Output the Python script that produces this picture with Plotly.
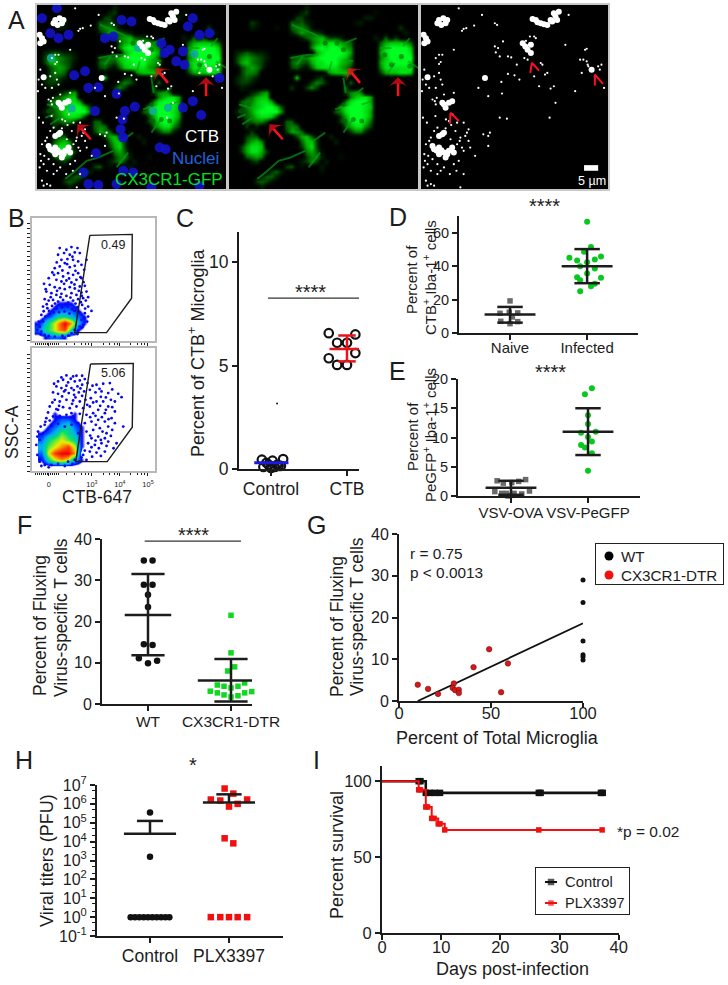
import plotly.graph_objects as go

W, H = 728, 985
FONT = "Liberation Sans"
INK = "#1c1c1c"

# ---------- Panel A (image field read on a 570 x 555 grid) ----------
GREEN_ROWS = [
    "...............2......................",
    "..............23.............1........",
    ".............331...........22.........",
    "....32......43421........12...........",
    "....21...1..45541.................3...",
    "............2465432................2..",
    "..............245674332......2.4.3....",
    "................467788654.....4677764.",
    "................589899865.....5899997.",
    ".2343221.........68999986.....6899998.",
    ".3565432....3455789999874.....5799899.",
    ".3675431....4543688999765.....6889998.",
    "..35653.....3421478888653.....5888889.",
    "..3554.............267775.....3677887.",
    ".23432.......7...23....3...............",
    ".2332...........3542....4..............",
    "..21........3..353.....4...............",
    "....2356...............3565............",
    "...34677................57886..........",
    "..4557886..............589996..........",
    "..356789973...........6899987.........",
    ".2346899995..........45899986.........",
    "..24578873............3699986.........",
    "...34553...44.........3589974.........",
    "...3.2.....455.........468853.........",
    "....3......3664.........3552..........",
    "...344.......3674...2.................",
    "...4675.......4773...2................",
    "..36887.......3683....................",
    "..368863.......5641...................",
    "...4565........3552...1...............",
    "....23........2353.2..................",
    "...........34.1...2...................",
    "........342.......1...................",
    "......2442............................",
    ".....3431.............................",
    "......2...............................",
]
ARM_X = [385, 350, None, 375, 345, None, 190, 250, 280, None, 185, 240, 270, None, 205, 225, None, 300, 310, None,
         320, 360, None, 345, 352, None, 430, 400, None, 345, 370, None, 405, 380, None,
         455, 490, None, 545, 525, None, 570, 540, None, 480, 500, None,
         85, 110, 150, 185, 230, None, 30, 70, None, 40, 70, None, 25, 50, None, 240, 265, 275, None, 255, 275, 290]
ARM_Y = [100, 115, None, 170, 165, None, 60, 85, 100, None, 160, 150, 150, None, 180, 150, None, 205, 170, None,
         315, 300, None, 220, 265, None, 290, 300, None, 385, 350, None, 250, 270, None,
         130, 130, None, 100, 125, None, 190, 170, None, 205, 175, None,
         525, 505, 470, 460, 440, None, 300, 310, None, 360, 340, None, 340, 330, None, 490, 460, 445, None, 410, 395, 385]
HOLE_X = [325, 345, 290, 520, 490, 545, 470, 375, 345, 400, 350, 60, 35, 205]
HOLE_Y = [115, 135, 115, 155, 180, 185, 150, 345, 300, 350, 350, 300, 320, 375]
NUCLEI_X = [15, 65, 40, 95, 255, 285, 205, 230, 470, 490, 455, 520, 385, 375, 440, 400, 445, 420, 550, 112, 145, 155, 185,
            240, 295, 265, 175, 258, 252, 260, 370, 388, 440, 470, 495, 178, 140, 155, 185, 260, 290, 240, 345, 490, 60]
NUCLEI_Y = [40, 100, 85, 90, 45, 50, 100, 95, 40, 90, 65, 85, 145, 115, 140, 135, 180, 170, 220, 212, 200, 250, 248,
            268, 307, 320, 320, 345, 375, 400, 430, 435, 310, 290, 332, 447, 505, 540, 543, 500, 505, 540, 550, 545, 10]
TEAL_X = [42, 350, 395, 475, 105, 305]
TEAL_Y = [160, 320, 310, 148, 312, 130]
SPECK_BIG_X = [55, 68, 75, 62, 80, 50, 15, 8, 20, 10, 340, 355, 375, 395, 410, 420, 405, 385, 400, 415, 350, 318, 310, 325, 335,
               335, 195, 520, 70, 85, 95, 75, 65, 40, 55, 70, 85, 75, 55, 95, 35, 100, 65, 55, 70, 20, 48, 62, 80, 365]
SPECK_BIG_Y = [45, 40, 55, 60, 45, 55, 100, 90, 110, 115, 42, 52, 58, 45, 35, 20, 25, 60, 50, 45, 45, 125, 115, 135, 120,
               145, 220, 195, 300, 295, 290, 310, 295, 435, 430, 445, 440, 460, 450, 430, 425, 445, 390, 395, 385, 218, 440, 438, 450, 55]
SPECK_X = [130, 125, 138, 225, 232, 345, 350, 320, 315, 325, 275, 265, 228, 240, 225, 235, 370, 365, 378, 385, 345,
           500, 505, 495, 505, 540, 550, 485, 510, 545, 490, 530, 175, 265, 285, 245, 247, 205, 410, 392, 262, 405, 395, 360,
           55, 45, 60, 55, 65, 10, 5, 15, 3, 25, 40, 55, 60, 65, 45, 70, 100, 42, 45, 35, 48,
           50, 85, 110, 130, 105, 120, 135, 145, 125, 130, 110, 90, 40, 25, 15, 10, 12, 20, 30, 50, 70, 100, 130, 165, 205, 190, 210,
           30, 20, 40, 15, 50, 120, 115, 30, 145, 75, 92, 118, 140, 22, 35, 8, 60, 88, 108, 150, 6, 18, 44, 76, 96,
           100, 162, 186, 250, 300, 292, 440, 470, 205, 240, 332, 450, 508, 558, 115]
SPECK_Y = [72, 78, 70, 55, 60, 95, 100, 108, 160, 165, 158, 155, 143, 155, 125, 130, 180, 175, 210, 205, 215,
           135, 132, 165, 170, 185, 180, 165, 185, 195, 205, 215, 250, 208, 212, 232, 267, 275, 295, 340, 343, 245, 252, 245,
           150, 160, 172, 178, 150, 195, 225, 240, 260, 250, 215, 205, 225, 240, 250, 270, 265, 290, 300, 285, 280,
           370, 350, 355, 355, 380, 400, 395, 410, 430, 440, 420, 405, 380, 410, 420, 450, 470, 480, 500, 480, 490, 480, 510, 455, 425, 390, 385,
           540, 545, 545, 530, 510, 550, 470, 400, 375, 372, 362, 410, 385, 455, 465, 490, 500, 510, 500, 430, 340, 355, 335, 345, 330,
           135, 62, 30, 110, 225, 180, 120, 260, 395, 340, 95, 30, 180, 250, 10]
ARROW_TIP_X = [358, 510, 122]
ARROW_TIP_Y = [190, 218, 360]
ARROW_TAIL_X = [395, 510, 162]
ARROW_TAIL_Y = [235, 275, 405]
CARET_X = [333, 338, 360, None, 530, 530, 555, None, 88, 90, 115]
CARET_Y = [205, 175, 198, None, 243, 210, 238, None, 358, 325, 350]

# ---------- Panel B (flow cytometry) ----------
B_TOP_X = [105, 125, 140, 158, 100, 118, 135, 150, 165, 110, 128, 145, 160, 120, 90, 105, 135, 150, 170, 88, 100, 115, 130, 145, 160, 178, 185,
           95, 110, 125, 140, 155, 170, 58, 75, 90, 105, 120, 135, 150, 165, 180, 65, 80, 95, 110, 125, 140, 155, 170, 185,
           60, 72, 85, 100, 115, 130, 145, 160, 175, 190, 55, 68, 82, 96, 112, 128, 142, 158, 172, 200, 190, 50, 62, 75, 180, 190, 170, 165, 175, 45, 50, 60, 150, 140, 160,
           72, 83, 113, 127, 143, 96, 152, 167, 176, 63, 78, 97, 118, 133, 149, 162, 171, 183, 66, 91, 107, 122, 137, 152, 168, 181, 57, 73, 87, 103, 119, 134, 149, 163, 178, 42, 55, 187, 172, 158, 37, 48, 72, 90, 113, 131]
B_TOP_Y = [115, 120, 112, 115, 135, 130, 135, 128, 130, 150, 148, 150, 155, 160, 175, 170, 172, 168, 165, 195, 190, 200, 190, 195, 190, 180, 150,
           210, 215, 212, 218, 210, 205, 222, 225, 232, 235, 238, 232, 236, 230, 228, 245, 250, 255, 252, 258, 250, 255, 248, 245,
           268, 272, 270, 275, 270, 278, 272, 268, 265, 262, 290, 295, 288, 296, 292, 290, 298, 292, 285, 303, 290, 315, 320, 312, 310, 320, 330, 350, 345, 350, 365, 375, 360, 370, 362,
           205, 188, 182, 163, 141, 158, 183, 202, 217, 238, 262, 243, 222, 206, 224, 243, 258, 272, 283, 281, 262, 283, 263, 281, 277, 296, 304, 303, 308, 307, 305, 311, 303, 307, 325, 335, 335, 335, 352, 372, 360, 373, 378, 380, 378, 377]
B_BOT_X = [125, 145, 155, 100, 115, 130, 150, 165, 180, 95, 110, 125, 140, 158, 172, 188, 85, 100, 118, 132, 148, 162, 178, 195, 215, 235, 255, 280, 290, 270, 250, 230, 212, 198, 182, 165, 145, 125, 105, 90,
           75, 95, 115, 135, 155, 175, 195, 215, 235, 250, 270, 220, 240, 205, 185, 165, 145, 125, 105, 85, 65, 60, 80, 100, 120, 140, 160, 180, 200, 220, 240, 260, 295, 205, 225, 250, 185, 40, 55,
           200, 220, 240, 258, 190, 210, 230, 250, 275, 195, 215, 240, 175, 185, 165, 60, 45, 80, 100, 130, 150, 45, 160, 100, 75, 140,
           110, 138, 172, 88, 122, 147, 167, 203, 224, 243, 262, 258, 228, 205, 172, 152, 112, 83, 103, 142, 187, 226, 243, 262, 212, 196, 231, 251, 270, 213, 233, 262, 245, 196, 212, 228, 245, 266, 200, 222, 202, 228, 180, 70, 62, 48, 38, 35, 38, 50, 72, 120, 143, 170]
B_BOT_Y = [497, 500, 498, 515, 510, 518, 515, 512, 508, 530, 535, 528, 535, 530, 525, 520, 548, 552, 545, 550, 555, 548, 545, 540, 525, 522, 520, 552, 562, 575, 550, 545, 548, 565, 570, 575, 572, 570, 575, 570,
           590, 598, 592, 595, 590, 595, 590, 575, 575, 590, 605, 600, 610, 610, 615, 612, 620, 615, 618, 620, 625, 645, 648, 642, 650, 645, 640, 640, 635, 630, 635, 625, 650, 660, 655, 650, 665, 665, 670,
           685, 680, 685, 678, 700, 705, 700, 695, 700, 725, 728, 725, 735, 750, 755, 765, 755, 765, 762, 755, 750, 690, 670, 600, 632, 610,
           503, 507, 498, 522, 541, 541, 536, 528, 537, 563, 539, 570, 561, 578, 558, 563, 560, 578, 588, 582, 585, 588, 600, 592, 618, 622, 622, 628, 640, 645, 665, 660, 670, 677, 692, 690, 708, 715, 712, 715, 740, 738, 722, 608, 636, 650, 680, 705, 735, 768, 772, 768, 762, 742]
B_TOP_DENSITY = [
    "..........",
    "..........",
    "...111....",
    "..12221...",
    ".1244321..",
    "13579731..",
    "2457841...",
    ".1221.....",
]
B_BOT_DENSITY = [
    "........",
    "..1..1..",
    "..1221..",
    ".123421.",
    "1235431.",
    "2456541.",
    "3567861.",
    "268997..",
    "1467631.",
    "........",
]
GATE_TOP_X = [195, 322, 320, 245, 150, 195]
GATE_TOP_Y = [77, 74, 265, 368, 368, 77]
GATE_BOT_X = [197, 325, 322, 247, 153, 197]
GATE_BOT_Y = [463, 461, 652, 755, 755, 463]
B_XMINOR = [33, 38, 44, 50, 56, 62, 68, 78, 84, 90, 96, 101, 125, 150, 170, 182, 192, 235, 255, 268, 278, 318, 338, 350, 360]
B_XLABELS = ["0", "10<sup>3</sup>", "10<sup>4</sup>", "10<sup>5</sup>"]
B_XLABEL_AT = [72, 201, 285, 369]
B_YTICKS_TOP = [42, 56, 70, 84, 98, 111, 125, 139, 153, 167, 181, 195, 210, 224, 238, 252, 266, 280, 294, 308, 321, 335, 349, 363, 377, 390]
B_YTICKS_BOT = [433, 447, 461, 475, 489, 503, 517, 531, 545, 559, 573, 587, 601, 615, 629, 643, 657, 671, 685, 699, 713, 727, 741, 755, 769, 783]

# ---------- Panel C ----------
C_CTRL_X = [0.88, 1.16, 1.02, 0.94, 1.08, 0.90, 1.00, 1.10, 0.97, 1.05, 1.13]
C_CTRL_Y = [0.45, 0.48, 0.40, 0.30, 0.20, 0.10, 0.05, 0.15, 0.20, 0.10, 0.15]
C_CTB_X = [1.76, 2.11, 2.00, 1.87, 2.11, 1.76, 1.87, 2.00]
C_CTB_Y = [6.56, 6.50, 6.10, 6.10, 5.60, 5.35, 5.03, 5.03]
C_OUTLIER_X = [1.08]
C_OUTLIER_Y = [3.17]

# ---------- Panel D ----------
D_NAIVE_X = [1.00, 0.87, 0.99, 1.10, 1.03, 0.88, 1.10, 1.00]
D_NAIVE_Y = [19.2, 11.8, 12.4, 12.0, 9.6, 7.0, 6.8, 5.6]
D_INF_X = [2.00, 2.05, 1.96, 1.77, 1.87, 2.00, 2.18, 2.10, 1.91, 2.10, 2.00, 1.87, 2.18, 1.91, 2.10, 2.05, 1.91]
D_INF_Y = [66.6, 51.4, 48.6, 45.0, 43.4, 42.4, 45.8, 44.0, 40.0, 38.6, 35.6, 33.4, 33.0, 31.6, 29.4, 28.0, 25.0]

# ---------- Panel E ----------
E_OVA_X = [0.82, 0.90, 1.01, 1.10, 1.19, 0.79, 0.88, 0.94, 0.96, 1.04, 1.14, 1.24, 1.00]
E_OVA_Y = [2.6, 2.2, 2.3, 2.5, 2.8, 0.75, 0.45, 0.45, 0.0, 0.45, 0.35, 0.85, 0.1]
E_PE_X = [2.05, 1.96, 2.00, 2.00, 1.91, 2.10, 2.00, 2.05, 1.91, 1.96, 2.05, 2.00]
E_PE_Y = [18.4, 17.4, 13.8, 12.3, 10.8, 11.0, 10.1, 9.3, 8.7, 8.3, 7.3, 4.3]

# ---------- Panel F ----------
F_WT_X = [0.95, 1.055, 0.95, 1.055, 1.00, 1.00, 0.95, 1.055, 0.89, 1.00, 1.11]
F_WT_Y = [34.8, 34.8, 28.9, 28.9, 26.5, 23.5, 14.5, 14.3, 11.1, 9.9, 10.5]
F_DTR_X = [2.00, 2.00, 2.044, 1.96, 2.165, 1.835, 1.916, 2.00, 2.084, 1.75, 1.835, 1.916, 2.00, 2.084, 2.165, 2.25]
F_DTR_Y = [21.5, 12.4, 9.0, 8.0, 5.1, 4.6, 4.3, 3.9, 4.3, 3.1, 2.7, 2.2, 1.7, 2.0, 2.7, 3.0]

# ---------- Panel G ----------
G_DTR_X = [10.2, 15.8, 21.2, 29.8, 29.2, 30.5, 32.5, 32.5, 40.5, 49.0, 55.5, 59.2]
G_DTR_Y = [3.9, 2.9, 1.7, 4.2, 3.1, 2.6, 2.7, 1.9, 8.1, 12.4, 2.1, 9.0]
G_WT_X = [100, 100, 100, 100, 100, 100]
G_WT_Y = [29.0, 23.6, 14.4, 11.1, 10.6, 9.8]
G_FIT_X = [10.2, 100]
G_FIT_Y = [0, 18.6]

# ---------- Panel H ----------
H_CTRL_X = [1.00, 1.00, 0.755, 0.81, 0.865, 0.92, 0.975, 1.03, 1.085, 1.14, 1.195, 1.245]
H_CTRL_Y = [3.5e5, 1600, 1, 1, 1, 1, 1, 1, 1, 1, 1, 1]
H_PLX_X = [1.945, 2.055, 1.77, 1.89, 2.23, 2.11, 2.00, 1.945, 2.055, 1.77, 1.89, 2.00, 2.11, 2.23]
H_PLX_Y = [6.5e6, 3.5e6, 1.7e6, 1.5e6, 1.7e6, 1.0e6, 7.2e5, 1.5e4, 8.1e3, 1, 1, 1, 1, 1]

# ---------- Panel I ----------
I_CTRL_X = [0, 7.4, 7.4, 37.2]
I_CTRL_Y = [100, 100, 92.3, 92.3]
I_CTRL_MX = [6.2, 6.5, 7.4, 8.1, 8.9, 9.8, 26.5, 26.8, 37.0, 37.3]
I_CTRL_MY = [100, 100, 92.3, 92.3, 92.3, 92.3, 92.3, 92.3, 92.3, 92.3]
I_PLX_X = [0, 6.2, 6.2, 7.4, 7.4, 8.4, 8.4, 9.5, 9.5, 10.6, 10.6, 37.2]
I_PLX_Y = [100, 100, 94.3, 94.3, 83, 83, 75.5, 75.5, 71.9, 71.9, 67.9, 67.9]
I_PLX_MX = [6.2, 6.5, 7.4, 7.7, 8.4, 8.8, 9.5, 9.8, 10.6, 26.5, 37.2]
I_PLX_MY = [94.3, 94.3, 83, 83, 75.5, 75.5, 71.9, 71.9, 67.9, 67.9, 67.9]

# ---------- scaffolding ----------
fig = go.Figure()
layout = dict(width=W, height=H, autosize=False, margin=dict(l=0, r=0, t=0, b=0, autoexpand=False),
              paper_bgcolor="white", plot_bgcolor="white", showlegend=False,
              font=dict(family=FONT, color=INK))
texts, shapes = [], []
n_ax = 0


def axes(box, xopts, yopts):
    """Create an axis pair from a pixel box (x0, x1, ytop, ybottom)."""
    global n_ax
    n_ax += 1
    s = "" if n_ax == 1 else str(n_ax)
    x0, x1, yt, yb = box
    layout["xaxis" + s] = dict(domain=[x0 / W, x1 / W], anchor="y" + s, showgrid=False, zeroline=False,
                               fixedrange=True, tickangle=0, **xopts)
    layout["yaxis" + s] = dict(domain=[1 - yb / H, 1 - yt / H], anchor="x" + s, showgrid=False, zeroline=False,
                               fixedrange=True, **yopts)
    return "x" + s, "y" + s


def T(text, x, y, size, color=INK, anchor="center", angle=0):
    texts.append(dict(text=text, x=x / W, y=1 - y / H, xref="paper", yref="paper", showarrow=False,
                      xanchor=anchor, yanchor="middle", textangle=angle,
                      font=dict(family=FONT, size=size, color=color)))


def sc(ax, x, y, **kw):
    kw.setdefault("showlegend", False)
    kw.setdefault("hoverinfo", "skip")
    kw.setdefault("cliponaxis", False)
    fig.add_trace(go.Scatter(x=x, y=y, xaxis=ax[0], yaxis=ax[1], **kw))


def mean_sd(ax, c, mean, lo, hi, hw, cap, color=INK, width=2.5):
    sc(ax, [c - hw, c + hw], [mean, mean], mode="lines", line=dict(color=color, width=width))
    sc(ax, [c, c, None, c - cap, c + cap, None, c - cap, c + cap], [lo, hi, None, hi, hi, None, lo, lo],
       mode="lines", line=dict(color=color, width=width))


def sig(ax, x0, x1, y):
    sc(ax, [x0, x1], [y, y], mode="lines", line=dict(color="#333", width=1.2))


BLACK_AXIS = dict(showline=True, linecolor=INK, linewidth=2, ticks="outside", tickcolor=INK, tickwidth=2, ticklen=5)
LEG_FRAME = dict(showline=True, mirror=True, linecolor="#222", linewidth=1, showticklabels=False, ticks="")


def grid_z(rows, ncol):
    return [[0 if c == "." else int(c) for c in r.ljust(ncol, ".")[:ncol]] for r in rows]


# ---------- A ----------
frame = dict(showline=True, mirror=True, linecolor="#c8c8c8", linewidth=1.5, showticklabels=False, ticks="")
green_z = grid_z(GREEN_ROWS, 38)
green_scale = [[0, "#000000"], [0.22, "#001c00"], [0.45, "#006000"], [0.7, "#00b000"], [1, "#00ff20"]]
a_boxes = [(37, 226, 5, 189), (229, 418, 5, 189), (421, 608, 5, 189)]
a_axes = [axes(b, dict(range=[0, 570], **frame), dict(range=[555, 0], **frame)) for b in a_boxes]
for ax in a_axes[:2]:
    fig.add_trace(go.Heatmap(z=green_z, x0=7.5, dx=15, y0=7.5, dy=15, xaxis=ax[0], yaxis=ax[1], zmin=0, zmax=9,
                             colorscale=green_scale, showscale=False, zsmooth="best", hoverinfo="skip"))
    sc(ax, ARM_X, ARM_Y, mode="lines", cliponaxis=True, opacity=0.65, line=dict(color="#00a016", width=2))
    sc(ax, HOLE_X, HOLE_Y, mode="markers", cliponaxis=True, marker=dict(color="#005a0c", size=5, opacity=0.55, line_width=0))
shapes.append(dict(type="rect", xref="x3 domain", yref="y3 domain", x0=0, x1=1, y0=0, y1=1,
                   fillcolor="black", line_width=0, layer="below"))
ax = a_axes[0]
sc(ax, NUCLEI_X, NUCLEI_Y, mode="markers", cliponaxis=True, marker=dict(color="#1212c8", size=10, opacity=0.9, line_width=0))
sc(ax, TEAL_X, TEAL_Y, mode="markers", cliponaxis=True, marker=dict(color="#12a8a0", size=8, opacity=0.85, line_width=0))
for ax in (a_axes[0], a_axes[2]):
    sc(ax, SPECK_BIG_X, SPECK_BIG_Y, mode="markers", cliponaxis=True, marker=dict(color="white", size=6, line_width=0))
    sc(ax, SPECK_X, SPECK_Y, mode="markers", cliponaxis=True, marker=dict(color="white", size=2.2, line_width=0))
for ax in a_axes[:2]:
    for k in range(3):
        sc(ax, [ARROW_TAIL_X[k], ARROW_TIP_X[k]], [ARROW_TAIL_Y[k], ARROW_TIP_Y[k]], mode="lines+markers",
           line=dict(color="#ff1020", width=2.5),
           marker=dict(symbol=["circle", "arrow-wide"], size=[0, 15], angleref="previous", color="#ff1020", line_width=0))
sc(a_axes[2], CARET_X, CARET_Y, mode="lines", line=dict(color="#ff1020", width=2))
shapes.append(dict(type="rect", xref="x3", yref="y3", x0=497, x1=540, y0=483, y1=500, fillcolor="white", line_width=0))
T("CTB", 221, 136, 17, "white", "right")
T("Nuclei", 221, 158, 17, "#1f63de", "right")
T("CX3CR1-GFP", 225, 179, 17, "#00e020", "right")
T("5 µm", 592, 181, 12.5, "white")

# ---------- B ----------
b_frame = dict(showline=True, mirror=True, linecolor="#b8b8b8", linewidth=1.5, ticks="outside", tickcolor=INK, tickwidth=1, ticklen=3)
dens_scale = [[0, "rgba(0,0,255,0)"], [0.06, "rgba(0,0,255,0)"], [0.11, "#0000ff"], [0.3, "#00a8ff"], [0.48, "#00e070"],
              [0.68, "#e8f000"], [0.85, "#ff5000"], [1, "#f00000"]]
x_minor = dict(ticks="outside", tickvals=B_XMINOR, ticklen=2, tickcolor=INK, tickwidth=1)
b1 = axes((32, 155, 218, 341), dict(range=[22, 390], tickvals=B_XLABEL_AT, minor=x_minor, showticklabels=False, **b_frame),
          dict(range=[393, 25], tickvals=B_YTICKS_TOP, showticklabels=False, **b_frame))
b2 = axes((32, 155, 348, 471),
          dict(range=[22, 390], tickvals=B_XLABEL_AT, ticktext=B_XLABELS, minor=x_minor, tickfont=dict(size=7.5, color=INK),
               ticklabelstandoff=2, **b_frame),
          dict(range=[783, 415], tickvals=B_YTICKS_BOT, showticklabels=False, **b_frame))
sc(b1, B_TOP_X, B_TOP_Y, mode="markers", marker=dict(color="#0808f0", size=2.8, line_width=0))
sc(b2, B_BOT_X, B_BOT_Y, mode="markers", marker=dict(color="#0808f0", size=2.8, line_width=0))
fig.add_trace(go.Heatmap(z=grid_z(B_TOP_DENSITY, 10), x0=40, dx=20, y0=240, dy=20, xaxis=b1[0], yaxis=b1[1], zmin=0, zmax=9,
                         colorscale=dens_scale, showscale=False, zsmooth="best", hoverinfo="skip"))
fig.add_trace(go.Heatmap(z=grid_z(B_BOT_DENSITY, 8), x0=50, dx=20, y0=590, dy=20, xaxis=b2[0], yaxis=b2[1], zmin=0, zmax=9,
                         colorscale=dens_scale, showscale=False, zsmooth="best", hoverinfo="skip"))
sc(b1, GATE_TOP_X, GATE_TOP_Y, mode="lines", line=dict(color=INK, width=1.4))
sc(b2, GATE_BOT_X, GATE_BOT_Y, mode="lines", line=dict(color=INK, width=1.4))
T("0.49", 113, 245, 12.5)
T("5.06", 113, 373, 12.5)
T("SSC-A", 12, 432, 17.5, angle=-90)
T("CTB-647", 97, 497, 17.5)

# ---------- C ----------
c = axes((239, 359, 232, 469),
         dict(range=[0.579, 2.158], tickvals=[1, 2], ticktext=["Control", "CTB"], tickfont=dict(size=17.5, color=INK),
              ticklabelstandoff=-2, **BLACK_AXIS),
         dict(range=[0, 11.45], tickvals=[0, 5, 10], tickfont=dict(size=17.5, color=INK), **BLACK_AXIS))
open_c = dict(symbol="circle-open", size=8.5, color="#111", line=dict(width=2.2, color="#111"))
sc(c, C_CTRL_X, C_CTRL_Y, mode="markers", marker=open_c)
sc(c, C_CTB_X, C_CTB_Y, mode="markers", marker=open_c)
sc(c, C_OUTLIER_X, C_OUTLIER_Y, mode="markers", marker=dict(color="#111", size=2))
sc(c, [0.78, 1.23], [0.3, 0.3], mode="lines", line=dict(color="#1a1ae0", width=3))
mean_sd(c, 2.0, 5.8, 5.2, 6.45, 0.23, 0.115, "#e8141c", 2.5)
sig(c, 0.96, 2.16, 8.26)
T("****", 310, 292, 20)
T("Percent of CTB<sup>+</sup> Microglia", 197, 353, 18, angle=-90)

# ---------- D ----------
tk15 = dict(size=15, color=INK)
d = axes((459, 638, 216, 333),
         dict(range=[0.338, 2.66], tickvals=[1, 2], ticktext=["Naive", "Infected"], tickfont=tk15, ticklabelstandoff=-5, **BLACK_AXIS),
         dict(range=[0, 70], tickvals=[0, 20, 40, 60], tickfont=dict(size=14.5, color=INK), **BLACK_AXIS))
sc(d, D_NAIVE_X, D_NAIVE_Y, mode="markers", marker=dict(symbol="square", color="#6a6a6a", size=5.5))
sc(d, D_INF_X, D_INF_Y, mode="markers", marker=dict(color="#08c820", size=6))
mean_sd(d, 1.0, 11.0, 6.2, 15.6, 0.33, 0.165)
mean_sd(d, 2.0, 40.0, 29.8, 50.2, 0.33, 0.165)
sig(d, 0.84, 2.09, 72)
T("****", 544, 206, 20)
T("Percent of", 412, 280, 15, angle=-90)
T("CTB<sup>+</sup> Iba-1<sup>+</sup> cells", 429, 278, 15, angle=-90)

# ---------- E ----------
e = axes((458, 640, 379, 496),
         dict(range=[0.312, 2.675], tickvals=[1, 2], ticktext=["VSV-OVA", "VSV-PeGFP"], tickfont=tk15, ticklabelstandoff=-3, **BLACK_AXIS),
         dict(range=[0, 20], tickvals=[0, 5, 10, 15, 20], tickfont=dict(size=14.5, color=INK), **BLACK_AXIS))
sc(e, E_OVA_X, E_OVA_Y, mode="markers", marker=dict(symbol="square", color="#6a6a6a", size=5.5))
sc(e, E_PE_X, E_PE_Y, mode="markers", marker=dict(color="#08c820", size=6))
mean_sd(e, 1.0, 1.4, 0.2, 2.6, 0.33, 0.165)
mean_sd(e, 2.0, 11.0, 7.0, 15.0, 0.33, 0.165)
sig(e, 0.88, 2.125, 20.1)
T("****", 550, 372, 20)
T("Percent of", 412, 437, 15, angle=-90)
T("PeGFP<sup>+</sup> Iba-1<sup>+</sup> cells", 429, 435, 15, angle=-90)

# ---------- F ----------
f = axes((102, 252, 539, 704),
         dict(range=[0.446, 2.253], tickvals=[1, 2], ticktext=["WT", "CX3CR1-DTR"], tickfont=dict(size=15.5, color=INK),
              ticklabelstandoff=-3, **BLACK_AXIS),
         dict(range=[0, 40], tickvals=[0, 10, 20, 30, 40], tickfont=dict(size=16, color=INK), **BLACK_AXIS))
sc(f, F_WT_X, F_WT_Y, mode="markers", marker=dict(color="#111", size=6.5))
sc(f, F_DTR_X, F_DTR_Y, mode="markers", marker=dict(symbol="square", color="#10d820", size=5.5))
mean_sd(f, 1.0, 21.6, 11.8, 31.5, 0.28, 0.2)
mean_sd(f, 2.0, 5.7, 0.6, 10.9, 0.4, 0.2)
sig(f, 0.96, 2.12, 39.5)
T("****", 193, 535, 20)
T("Percent of Fluxing", 40, 626, 17.5, angle=-90)
T("Virus-specific T cells", 61, 617, 17.5, angle=-90)

# ---------- G ----------
g = axes((399, 583, 534, 701),
         dict(range=[0, 100], tickvals=[0, 50, 100], tickfont=dict(size=16.5, color=INK), ticklabelstandoff=-9, **BLACK_AXIS),
         dict(range=[0, 40], tickvals=[0, 10, 20, 30, 40], tickfont=dict(size=16, color=INK), **BLACK_AXIS))
sc(g, G_FIT_X, G_FIT_Y, mode="lines", line=dict(color="#111", width=1.8))
sc(g, G_DTR_X, G_DTR_Y, mode="markers", name="CX3CR1-DTR",
   marker=dict(color="#d81818", size=5.5, line=dict(color="#701010", width=0.6)))
sc(g, G_WT_X, G_WT_Y, mode="markers", name="WT", marker=dict(color="#111", size=5))
T("r = 0.75", 408, 553, 15.4, anchor="left")
T("p &lt; 0.0013", 408, 572, 15.4, anchor="left")
T("Percent of Total Microglia", 497, 738, 18)
T("Percent of Fluxing", 337, 627, 17.5, angle=-90)
T("Virus-specific T cells", 357, 617, 17.5, angle=-90)
# legend box of G
lg = axes((596, 723, 544, 584), dict(range=[0, 127], **LEG_FRAME), dict(range=[40, 0], **LEG_FRAME))
sc(lg, [13], [12], mode="markers", marker=dict(color="black", size=9))
sc(lg, [13], [31], mode="markers", marker=dict(color="#f01010", size=9))
T("WT", 619, 556, 15.2, anchor="left")
T("CX3CR1-DTR", 619, 575, 15.2, anchor="left")

# ---------- H ----------
h = axes((97, 283, 785, 936),
         dict(range=[0.329, 2.684], tickvals=[1, 2], ticktext=["Control", "PLX3397"], tickfont=dict(size=17.5, color=INK),
              ticklabelstandoff=-2, **BLACK_AXIS),
         dict(type="log", range=[-1, 7], tickvals=[10 ** p for p in range(-1, 8)],
              ticktext=["10<sup>%d</sup>" % p for p in range(-1, 8)], tickfont=dict(size=16, color=INK),
              minor=dict(ticks="outside", ticklen=3, tickcolor=INK, tickwidth=1), **BLACK_AXIS))
sc(h, H_CTRL_X, H_CTRL_Y, mode="markers", marker=dict(color="#111", size=6.5))
sc(h, H_PLX_X, H_PLX_Y, mode="markers", marker=dict(symbol="square", color="#f01010", size=6.5))
sc(h, [0.67, 1.33], [2.6e4, 2.6e4], mode="lines", line=dict(color=INK, width=2.5))
sc(h, [1, 1, None, 0.835, 1.165], [2.6e4, 1.25e5, None, 1.25e5, 1.25e5], mode="lines", line=dict(color=INK, width=2.5))
sc(h, [1.67, 2.33], [1.2e6, 1.2e6], mode="lines", line=dict(color=INK, width=2.5))
sc(h, [2, 2, None, 1.84, 2.16], [1.2e6, 3.2e6, None, 3.2e6, 3.2e6], mode="lines", line=dict(color=INK, width=2.5))
sig(h, 0.95, 2.17, 5.5e7)
T("*", 193, 765, 20)
T("Viral titers (PFU)", 47, 861, 18, angle=-90)

# ---------- I ----------
i_ = axes((382, 618.7, 766, 933),
          dict(range=[0, 40], tickvals=[0, 10, 20, 30, 40], tickfont=dict(size=16.5, color=INK), ticklabelstandoff=-7, **BLACK_AXIS),
          dict(range=[0, 110], tickvals=[0, 50, 100], tickfont=dict(size=16.5, color=INK), **BLACK_AXIS))
sc(i_, I_CTRL_X, I_CTRL_Y, mode="lines", name="Control", line=dict(color="#111", width=2.6))
sc(i_, I_CTRL_MX, I_CTRL_MY, mode="markers", marker=dict(symbol="square", color="#111", size=6.5))
sc(i_, I_PLX_X, I_PLX_Y, mode="lines", name="PLX3397", line=dict(color="#f01010", width=2))
sc(i_, I_PLX_MX, I_PLX_MY, mode="markers", marker=dict(symbol="square", color="#f01010", size=5.5))
T("*p = 0.02", 615, 831, 15.5, anchor="left")
T("Days post-infection", 512, 969, 18)
T("Percent survival", 337, 855, 18, angle=-90)
# legend box of I
li = axes((536, 629, 868, 914), dict(range=[0, 93], **LEG_FRAME), dict(range=[46, 0], **LEG_FRAME))
sc(li, [9, 15, 21], [14, 14, 14], mode="lines+markers", line=dict(color="#111", width=2),
   marker=dict(symbol="square", size=[0, 6.5, 0], color="#111", line_width=0))
sc(li, [9, 15, 21], [35, 35, 35], mode="lines+markers", line=dict(color="#f01010", width=2),
   marker=dict(symbol="square", size=[0, 5.5, 0], color="#f01010", line_width=0))
T("Control", 563, 882, 14.8, anchor="left")
T("PLX3397", 563, 903, 14.5, anchor="left")

# ---------- panel letters ----------
LETTERS = ["A", "B", "C", "D", "E", "F", "G", "H", "I"]
LETTER_X = [16, 16, 185, 398, 398, 24, 316, 24, 316]
LETTER_Y = [20, 218, 218, 217, 371, 525, 525, 760, 760]
for name, lx, ly in zip(LETTERS, LETTER_X, LETTER_Y):
    T(name, lx, ly, 25)

layout["annotations"] = texts
layout["shapes"] = shapes
fig.update_layout(**layout)
fig.write_html("out.html", config=dict(displayModeBar=False),
               post_script="document.body.style.margin='0';document.body.style.overflow='hidden';window.dispatchEvent(new Event('resize'));")
